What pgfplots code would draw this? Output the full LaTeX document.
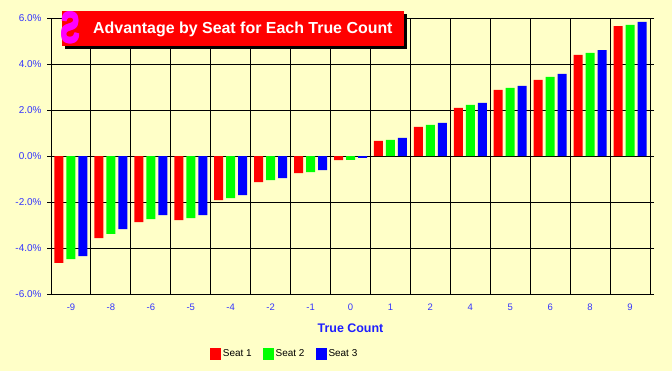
\documentclass[border=0pt]{standalone}
\usepackage{pgfplots}
\pgfplotsset{compat=1.18}
\usepackage{fontspec}
\setmainfont{Liberation Sans}
\definecolor{bg}{RGB}{255,255,200}
\definecolor{tickblue}{RGB}{51,51,255}
\definecolor{labblue}{RGB}{30,30,255}
\definecolor{sred}{RGB}{255,0,0}
\definecolor{sgreen}{RGB}{0,255,0}
\definecolor{sblue}{RGB}{0,0,255}
\definecolor{logo}{RGB}{255,0,255}
\newcommand{\logoS}{\scalebox{1.3}[1.95]{\reflectbox{\bfseries\fontsize{22}{22}\selectfont S}}}
\begin{document}
\begin{tikzpicture}
\fill[bg] (0,0) rectangle (672bp,371bp);
\useasboundingbox (0,0) rectangle (672bp,371bp);
\begin{axis}[
  at={(51bp,76.7bp)}, anchor=south west,
  scale only axis, width=599bp, height=276.3bp,
  axis background/.style={fill=bg},
  ybar=3bp, bar width=9bp,
  xmin=-0.5, xmax=14.5, ymin=-6, ymax=6,
  xtick={0,...,14},
  xticklabels={-9,-8,-6,-5,-4,-2,-1,0,1,2,4,5,6,8,9},
  minor xtick={0.5,1.5,...,13.5},
  xminorgrids=true, ymajorgrids=true,
  grid style={black, line width=1bp},
  minor grid style={black, line width=1bp},
  axis line style={black, line width=1bp},
  major x tick style={draw=none},
  minor x tick style={draw=none},
  ytick={-6,-4,...,6},
  ytick style={black, line width=1bp},
  tick align=outside, major tick length=4bp,
  /pgf/number format/assume math mode=true,
  yticklabel={\pgfmathprintnumber[fixed,fixed zerofill,precision=1]{\tick}\%},
  yticklabel style={font=\fontsize{10}{12}\selectfont, text=tickblue, xshift=-2bp},
  xticklabel style={font=\fontsize{9.5}{11}\selectfont, text=tickblue, yshift=-2bp},
  xlabel={True Count},
  xlabel style={font=\bfseries\fontsize{12.5}{14}\selectfont, text=labblue, yshift=-6bp},
  legend columns=3,
  legend style={at={(0.265,-0.2155)}, anchor=west, draw=none, fill=none,
    font=\fontsize{10}{12}\selectfont, inner sep=0pt,
    /tikz/every even column/.append style={column sep=9bp}},
  legend image code/.code={\fill[#1] (0bp,-6bp) rectangle (11bp,6bp);},
]
\addplot[draw=none, fill=sred] coordinates {(0,-4.64) (1,-3.56) (2,-2.86) (3,-2.78) (4,-1.91) (5,-1.13) (6,-0.74) (7,-0.17) (8,0.66) (9,1.27) (10,2.10) (11,2.88) (12,3.31) (13,4.40) (14,5.65)};
\addplot[draw=none, fill=sgreen] coordinates {(0,-4.47) (1,-3.38) (2,-2.73) (3,-2.69) (4,-1.82) (5,-1.04) (6,-0.69) (7,-0.16) (8,0.71) (9,1.36) (10,2.23) (11,2.97) (12,3.44) (13,4.48) (14,5.70)};
\addplot[draw=none, fill=sblue] coordinates {(0,-4.34) (1,-3.17) (2,-2.56) (3,-2.56) (4,-1.69) (5,-0.95) (6,-0.61) (7,-0.07) (8,0.79) (9,1.44) (10,2.31) (11,3.05) (12,3.57) (13,4.61) (14,5.83)};
\legend{Seat 1, Seat 2, Seat 3}
\end{axis}
\fill[black] (65bp,322bp) rectangle (407bp,357bp);
\fill[sred] (62bp,325bp) rectangle (404bp,360bp);
\foreach \dx/\dy in {-0.9/-0.9,-0.9/0.9,0.9/-0.9,0.9/0.9,0/0}{
  \node[anchor=center, text=logo, inner sep=0pt] at (70.5bp+\dx bp,343bp+\dy bp) {\logoS};
}
\node[anchor=west, text=white, inner sep=0pt] at (93bp,342bp) {\bfseries\fontsize{16}{18}\selectfont Advantage by Seat for Each True Count};
\end{tikzpicture}
\end{document}
